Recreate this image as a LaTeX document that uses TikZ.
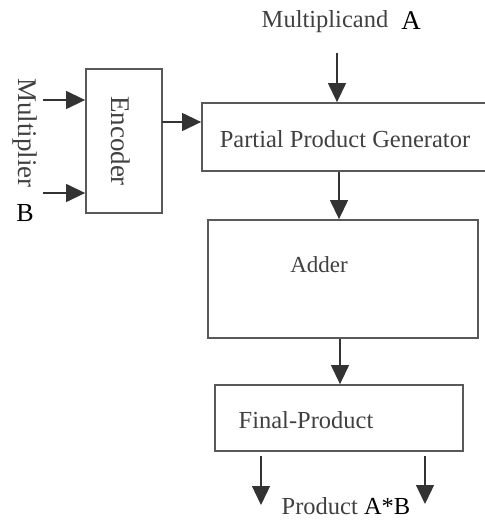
\documentclass[tikz,border=0pt]{standalone}
\usepackage{fontspec}
\setmainfont{Liberation Serif}
\usetikzlibrary{shapes,arrows.meta}

\begin{document}
\begin{tikzpicture}[x=1pt,y=-1pt,
	block/.style={draw=black!65,line width=1.8pt,minimum width=#1,inner sep=0pt},
	flow/.style={line width=1.3pt,draw=black!80,-{Triangle[length=19pt,width=18pt]}},
	txt/.style={text=black!75,font=\fontsize{24.5}{28}\selectfont,inner sep=0pt}]
		\useasboundingbox (0,0) rectangle (484,521);
		% blocks
		\node (enc)[block=76pt,minimum height=144pt] at (124,141){};
		\node[txt,rotate=-90,font=\fontsize{27}{30}\selectfont] at (121,141){Encoder};
		\node (ppg)[block=288pt,minimum height=68pt] at (346,137){};
		\node[txt] at (345,139){Partial Product Generator};
		\node (add)[block=270pt,minimum height=118pt] at (343,279){};
		\node[txt,font=\fontsize{23}{26}\selectfont] at (319,265){Adder};
		\node (fin)[block=248pt,minimum height=66pt] at (339,418){};
		\node[txt] at (306,420){Final-Product};
		% inputs and outputs
		\node (mul)[txt,rotate=-90,font=\fontsize{27}{30}\selectfont] at (25,133){Multiplier};
		\node (b)[txt,text=black,font=\fontsize{26}{30}\selectfont] at (25,213){B};
		\node (mcd)[txt] at (325,22){Multiplicand};
		\node (a)[txt,text=black,font=\fontsize{27}{30}\selectfont] at (411,21){A};
		\node (prod)[txt] at (346,506){Product \textcolor{black}{A*B}};
		\coordinate (m1) at (43,100);
		\coordinate (m2) at (43,193);
		\coordinate (e1) at (162,122);
		\coordinate (t1) at (337,53);
		\coordinate (o1) at (261,456);
		\coordinate (o2) at (425,456);
		% connectors
		\draw[flow] (m1) -- (m1 -| enc.west);
		\draw[flow] (m2) -- (m2 -| enc.west);
		\draw[flow] (e1) -- (e1 -| ppg.west);
		\draw[flow] (t1) -- (t1 |- ppg.north);
		\draw[flow] (ppg.south -| 339,0) -- (add.north -| 339,0);
		\draw[flow] (add.south -| 340,0) -- (fin.north -| 340,0);
		\draw[flow] (o1) -- ++(0,49);
		\draw[flow] (o2) -- ++(0,48);
		\end{tikzpicture}
\end{document}
